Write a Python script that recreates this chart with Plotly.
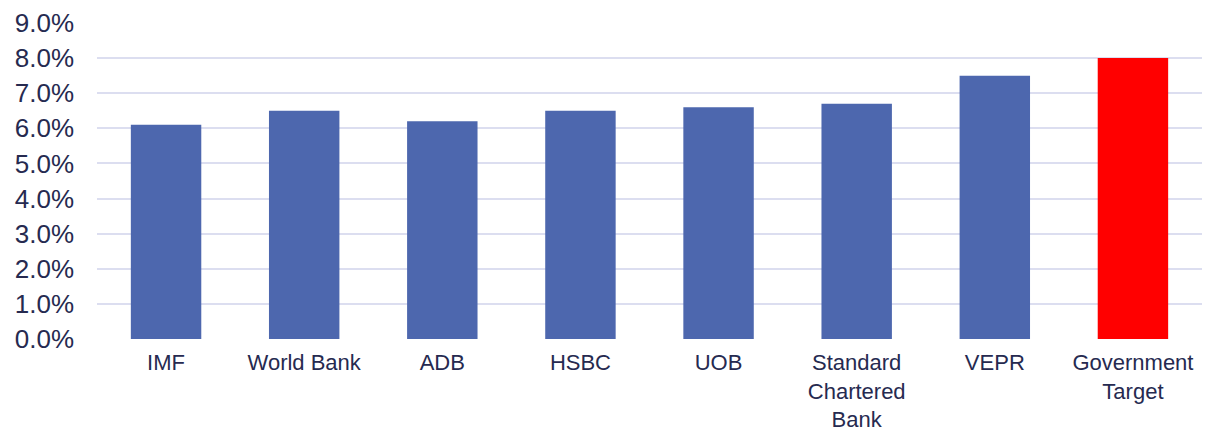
import plotly.graph_objects as go

categories = ["IMF", "World Bank", "ADB", "HSBC", "UOB",
              "Standard<br>Chartered<br>Bank", "VEPR", "Government<br>Target"]
values = [6.1, 6.5, 6.2, 6.5, 6.6, 6.7, 7.5, 8.0]
bar_colors = ["#4d67ae"] * 7 + ["#ff0000"]
tick_vals = [0, 1, 2, 3, 4, 5, 6, 7, 8, 9]
tick_text = [f"{v:.1f}%" for v in tick_vals]

fig = go.Figure(go.Bar(
    x=categories, y=values,
    marker=dict(color=bar_colors, line=dict(width=0)),
    width=0.51,
))

fig.update_layout(
    width=1205, height=432,
    margin=dict(l=97, r=3, t=23, b=93, autoexpand=False),
    paper_bgcolor="white", plot_bgcolor="white",
    font=dict(family="Liberation Sans, Arial, sans-serif", color="#262a50"),
    showlegend=False,
    xaxis=dict(tickfont=dict(size=22), showgrid=False, showline=False,
               ticklabelstandoff=8, zeroline=False, automargin=False),
    yaxis=dict(range=[0, 9], tickvals=tick_vals, ticktext=tick_text,
               tickfont=dict(size=26), showgrid=True, gridcolor="#dcdef0",
               gridwidth=2, zeroline=False, showline=False,
               ticklabelstandoff=22, automargin=False),
)

fig.write_html("out.html")
